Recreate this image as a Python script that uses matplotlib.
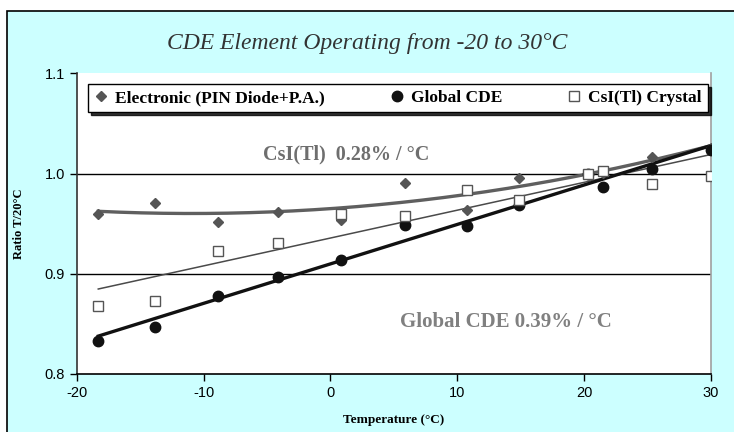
import numpy as np
import matplotlib
matplotlib.use("Agg")
import matplotlib.pyplot as plt
from matplotlib.patches import Rectangle

plt.rcParams['axes.unicode_minus'] = False

temp = [-18.3, -13.8, -8.9, -4.15, 0.8, 5.85, 10.75, 14.9, 20.3, 21.5, 25.35, 30.0]
electronic = [0.960, 0.971, 0.952, 0.962, 0.954, 0.991, 0.964, 0.996, 1.000, 1.001, 1.016, 1.025]
global_cde = [0.833, 0.847, 0.878, 0.897, 0.914, 0.949, 0.948, 0.969, 1.000, 0.987, 1.005, 1.023]
csi = [0.868, 0.873, 0.923, 0.931, 0.960, 0.958, 0.984, 0.974, 1.000, 1.003, 0.990, 0.998]

x_ticks = [-20, -10, 0, 10, 20, 30]
y_ticks = [0.8, 0.9, 1.0, 1.1]

serif = ['Liberation Serif', 'DejaVu Serif']
sans = ['Liberation Sans', 'DejaVu Sans']

fig = plt.figure(figsize=(7.34, 4.32), dpi=100, facecolor='white')
# fond cyan avec cadre noir
fig.patches.append(Rectangle((7/734, -0.01), 1.0, 1 - 11/432 + 0.01, transform=fig.transFigure,
                             facecolor='#ccffff', edgecolor='black', linewidth=1.2, zorder=-10))

ax = fig.add_axes([76.7/734, 1 - 374/432, (711 - 76.7)/734, (374 - 73.3)/432])
ax.set_facecolor('white')

t = np.array(temp)
xx = np.linspace(t.min(), t.max(), 200)

# courbes de tendance
p_el = np.polyfit(t, electronic, 2)
p_gl = np.polyfit(t, global_cde, 1)
p_cs = np.polyfit(t, csi, 1)
ax.plot(xx, np.polyval(p_el, xx), color='#5f5f5f', lw=2.4, zorder=3)
ax.plot(xx, np.polyval(p_cs, xx), color='#4a4a4a', lw=1.1, zorder=3)
ax.plot(xx, np.polyval(p_gl, xx), color='#111111', lw=2.4, zorder=3)

ax.plot(temp, electronic, linestyle='none', marker='D', ms=5, color='#555555',
        label='Electronic (PIN Diode+P.A.)', zorder=4)
ax.plot(temp, global_cde, linestyle='none', marker='o', ms=7.5, color='#111111',
        label='Global CDE', zorder=4)
ax.plot(temp, csi, linestyle='none', marker='s', ms=6.5, mfc='white', mec='#555555', mew=1,
        label='CsI(Tl) Crystal', zorder=4)

ax.set_xlim(-20, 30)
ax.set_ylim(0.8, 1.1)
ax.set_xticks(x_ticks)
ax.set_yticks(y_ticks)
ax.set_yticklabels(['%.1f' % v for v in y_ticks])
ax.tick_params(direction='out', length=5, width=1, labelsize=10.5, colors='black')
for lab in ax.get_xticklabels() + ax.get_yticklabels():
    lab.set_family(sans)
for yv in [0.9, 1.0]:
    ax.axhline(yv, color='black', lw=1, zorder=1)

ax.spines['left'].set_color('#333333')
ax.spines['bottom'].set_color('black')
ax.spines['right'].set_color('#a0a0a0')
ax.spines['top'].set_visible(False)
for s in ['left', 'bottom', 'right']:
    ax.spines[s].set_linewidth(1.2)

ax.set_xlabel('Temperature (°C)', family=serif, fontweight='bold', fontsize=9.5, labelpad=10)
ax.set_ylabel('Ratio T/20°C', family=serif, fontweight='bold', fontsize=9, labelpad=14)

fig.text(0.5, 1 - 43/432, 'CDE Element Operating from -20 to 30°C', family=serif,
         style='italic', fontsize=17, color='#333333', ha='center', va='center')

ax.text(1.24, 1.0195, 'CsI(Tl)  0.28% / °C', family=serif, fontweight='bold', fontsize=14.5,
        color='#6e6e6e', ha='center', va='center')
ax.text(13.86, 0.852, 'Global CDE 0.39% / °C', family=serif, fontweight='bold', fontsize=15,
        color='#808080', ha='center', va='center')

leg = ax.legend(loc='lower left', bbox_to_anchor=(0.018, 0.871, 0.977, 0.109), mode='expand',
                ncol=3, fancybox=False, shadow={'color': 'black', 'alpha': 0.8}, framealpha=1,
                edgecolor='black', borderaxespad=0, handlelength=0.8, handletextpad=0.4,
                borderpad=0.35, prop={'family': serif, 'weight': 'bold', 'size': 12.5})
leg.get_frame().set_linewidth(1)

fig.savefig('out.png', dpi=100, facecolor=fig.get_facecolor())
